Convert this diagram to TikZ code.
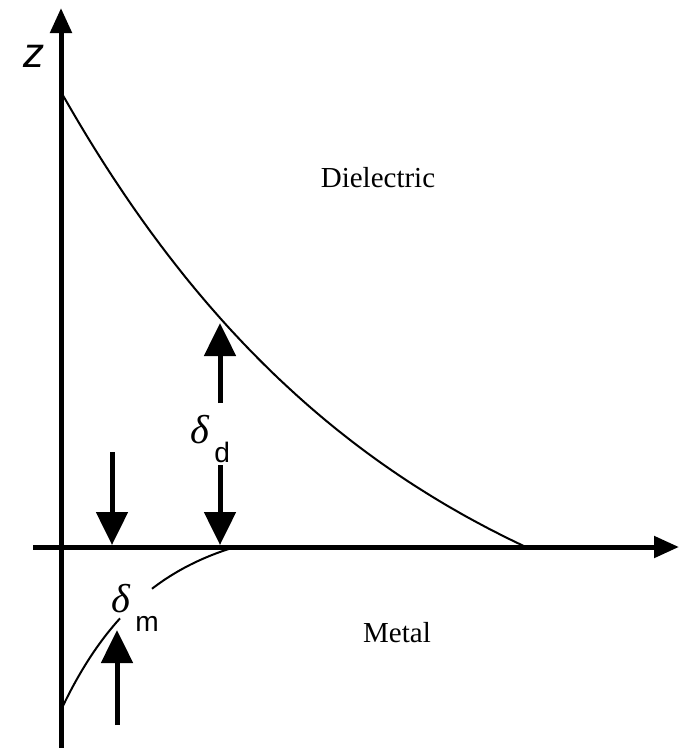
\documentclass[tikz,border=0pt]{standalone}
\usepackage{fontspec}
\setmainfont{Liberation Serif}
\setsansfont{Liberation Sans}
\usetikzlibrary{arrows.meta}
\newcommand{\decaylab}[1]{{\itshape δ}\hspace{3pt}\raisebox{-11pt}{\fontsize{16}{18}\selectfont\sffamily #1}}

\begin{document}
\begin{tikzpicture}[x=0.02cm, y=-0.02cm,
    axis/.style={line width=0.1cm, -{Triangle[length=0.5cm, width=0.42cm]}},
    curve/.style={line width=0.04cm},
    marker/.style={line width=0.1cm, -{Triangle[length=0.66cm, width=0.62cm]}},
    region/.style={font=\fontsize{16.5}{18}\selectfont},
    symb/.style={inner sep=0pt, anchor=base west, font=\fontsize{23}{25}\selectfont}]
    \useasboundingbox (0,0) rectangle (680,748);

    \coordinate (zbot) at (61,748);
    \coordinate (ztop) at (61,8);
    \coordinate (xleft) at (33,547);
    \coordinate (xright) at (679,547);
    \draw[axis] (zbot) -- (ztop);
    \draw[axis] (xleft) -- (xright);
    \node[font=\fontsize{24}{26}\selectfont\sffamily\itshape] (zlab) at (34,56) {z};

    \draw[curve] plot[domain=61:526, samples=80, smooth] (\x, {711-619*exp(-(\x-61)/350)});
    \draw[curve] plot[domain=61:120, samples=30, smooth] (\x, {519.4+190.6*exp(-(\x-61)/90)});
    \draw[curve] plot[domain=152:235, samples=30, smooth] (\x, {519.4+190.6*exp(-(\x-61)/90)});

    \node[region] (diel) at (378,178) {Dielectric};
    \node[region] (metal) at (397,633) {Metal};

    \coordinate (m1top) at (112,452);
    \coordinate (m1tip) at (112,545);
    \coordinate (d1top) at (220,465);
    \coordinate (d1tip) at (220,545);
    \coordinate (d2bot) at (220,403);
    \coordinate (d2tip) at (220,323);
    \coordinate (m2bot) at (117,725);
    \coordinate (m2tip) at (117,630);
    \draw[marker] (m1top) -- (m1tip);
    \draw[marker] (d1top) -- (d1tip);
    \draw[marker] (d2bot) -- (d2tip);
    \draw[marker] (m2bot) -- (m2tip);

    \node[symb] (deltad) at (190,443) {\decaylab{d}};
    \node[symb] (deltam) at (111,612) {\decaylab{m}};
\end{tikzpicture}
\end{document}
